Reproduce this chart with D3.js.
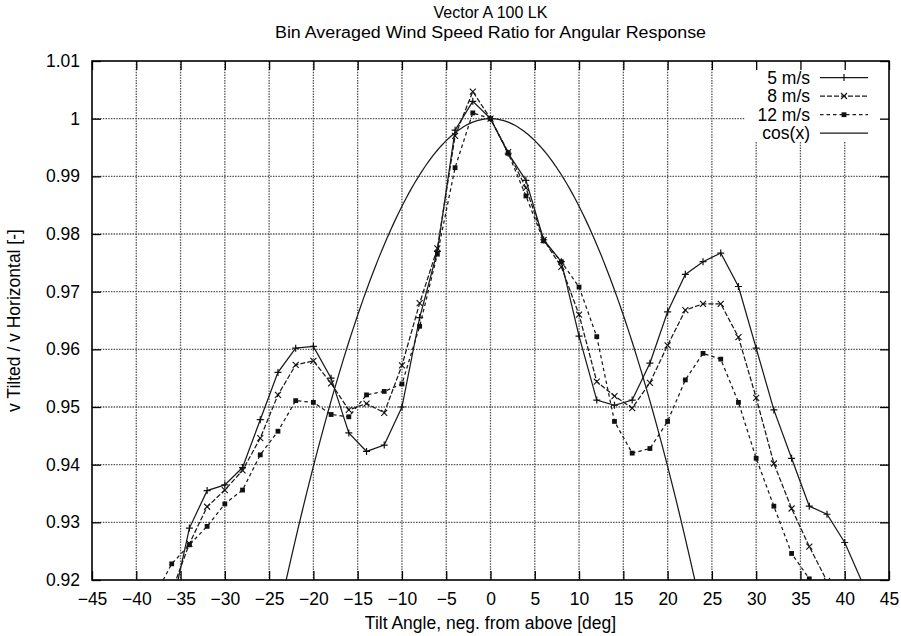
<!DOCTYPE html>
<html>
<head>
<meta charset="utf-8">
<script src="https://cdn.jsdelivr.net/npm/d3@7"></script>
<style>
  html, body { margin: 0; padding: 0; background: #fff; }
  svg { display: block; }
  text { font-family: "Liberation Sans", Arial, sans-serif; fill: #000; }
</style>
</head>
<body>
<script>
// ---------- data ----------
const titleLines = ["Vector A 100 LK", "Bin Averaged Wind Speed Ratio for Angular Response"];
const xLabel = "Tilt Angle, neg. from above [deg]";
const yLabel = "v Tilted / v Horizontal [-]";
const xTicks = [-45, -40, -35, -30, -25, -20, -15, -10, -5, 0, 5, 10, 15, 20, 25, 30, 35, 40, 45];
const yTicks = [0.92, 0.93, 0.94, 0.95, 0.96, 0.97, 0.98, 0.99, 1.00, 1.01];
const yTickLabels = ["0.92", "0.93", "0.94", "0.95", "0.96", "0.97", "0.98", "0.99", "1", "1.01"];

const angles5 = [-36, -34, -32, -30, -28, -26, -24, -22, -20, -18, -16, -14, -12, -10, -8, -6, -4, -2, 0, 2, 4, 6, 8, 10, 12, 14, 16, 18, 20, 22, 24, 26, 28, 30, 32, 34, 36, 38, 40, 42];
const ratio5 = [0.915, 0.929, 0.9355, 0.9365, 0.9395, 0.9478, 0.956, 0.9602, 0.9605, 0.955, 0.9455, 0.9423, 0.9434, 0.9500, 0.9655, 0.977, 0.998, 1.003, 1.000, 0.994, 0.9893, 0.979, 0.9752, 0.9623, 0.9512, 0.9503, 0.9512, 0.9576, 0.9665, 0.973, 0.9752, 0.9767, 0.9709, 0.9602, 0.9495, 0.9411, 0.9328, 0.9314, 0.9265, 0.9195];

const angles8 = [-36, -34, -32, -30, -28, -26, -24, -22, -20, -18, -16, -14, -12, -10, -8, -6, -4, -2, 0, 2, 4, 6, 8, 10, 12, 14, 16, 18, 20, 22, 24, 26, 28, 30, 32, 34, 36, 38];
const ratio8 = [0.918, 0.9263, 0.9327, 0.9356, 0.939, 0.9446, 0.9521, 0.9573, 0.958, 0.9541, 0.9495, 0.9506, 0.949, 0.9572, 0.968, 0.9775, 0.997, 1.0047, 1.000, 0.9942, 0.988, 0.979, 0.9743, 0.966, 0.9544, 0.9519, 0.9498, 0.9542, 0.9607, 0.9668, 0.9679, 0.9679, 0.9621, 0.9516, 0.9402, 0.9324, 0.9258, 0.9198];

const angles12 = [-38, -36, -34, -32, -30, -28, -26, -24, -22, -20, -18, -16, -14, -12, -10, -8, -6, -4, -2, 0, 2, 4, 6, 8, 10, 12, 14, 16, 18, 20, 22, 24, 26, 28, 30, 32, 34, 36];
const ratio12 = [0.917, 0.9228, 0.9261, 0.9293, 0.9332, 0.9356, 0.9417, 0.9458, 0.9511, 0.9508, 0.9487, 0.9483, 0.9521, 0.9527, 0.954, 0.964, 0.9765, 0.9915, 1.001, 1.000, 0.994, 0.9866, 0.9788, 0.9752, 0.9708, 0.9622, 0.9475, 0.942, 0.9428, 0.9475, 0.9547, 0.9593, 0.9583, 0.9508, 0.9411, 0.9328, 0.9246, 0.9202];

const seriesNames = ["5 m/s", "8 m/s", "12 m/s", "cos(x)"];

// ---------- layout ----------
const W = 901, H = 636;
const pL = 92, pR = 889, pT = 61, pB = 580;
const FS = 17.5;
const TFS = 16;

const svg = d3.select("body").append("svg").attr("width", W).attr("height", H);

const x = d3.scaleLinear().domain([-45, 45]).range([pL, pR]);
const y = d3.scaleLinear().domain([0.92, 1.01]).range([pB, pT]);

svg.append("defs").append("clipPath").attr("id", "plotclip")
  .append("rect").attr("x", pL).attr("y", pT).attr("width", pR - pL).attr("height", pB - pT);

// grid
const grid = svg.append("g");
grid.selectAll(".vg").data(xTicks.slice(1, -1)).join("line")
  .attr("x1", d => x(d)).attr("x2", d => x(d)).attr("y1", pT).attr("y2", pB)
  .attr("stroke", "#555").attr("stroke-width", 1.3).attr("stroke-dasharray", "1.5,1.2");
grid.selectAll(".hg").data(yTicks.slice(1, -1)).join("line")
  .attr("y1", d => y(d)).attr("y2", d => y(d)).attr("x1", pL).attr("x2", pR)
  .attr("stroke", "#555").attr("stroke-width", 1.3).attr("stroke-dasharray", "1.5,1.2");

// legend background (opaque key)
svg.append("rect").attr("x", 745).attr("y", pT + 1).attr("width", pR - 746).attr("height", 79).attr("fill", "#fff");

// axes with D3 axis generators (ticks inward)
const tickLen = 9;
svg.append("g").attr("transform", `translate(0,${pB})`)
  .call(d3.axisBottom(x).tickValues(xTicks).tickSize(-tickLen).tickPadding(13).tickFormat(d3.format("d")))
  .call(g => g.select(".domain").remove())
  .call(g => g.selectAll("line").attr("stroke", "#000").attr("stroke-width", 1.3))
  .call(g => g.selectAll("text").attr("font-size", FS).attr("font-family", "Liberation Sans, Arial, sans-serif").attr("fill", "#000"));
svg.append("g").attr("transform", `translate(0,${pT})`)
  .call(d3.axisTop(x).tickValues(xTicks).tickSize(-tickLen).tickFormat(""))
  .call(g => g.select(".domain").remove())
  .call(g => g.selectAll("line").attr("stroke", "#000").attr("stroke-width", 1.3));
svg.append("g").attr("transform", `translate(${pL},0)`)
  .call(d3.axisLeft(y).tickValues(yTicks).tickSize(-tickLen).tickPadding(12).tickFormat((d, i) => yTickLabels[i]))
  .call(g => g.select(".domain").remove())
  .call(g => g.selectAll("line").attr("stroke", "#000").attr("stroke-width", 1.3))
  .call(g => g.selectAll("text").attr("font-size", FS).attr("font-family", "Liberation Sans, Arial, sans-serif").attr("fill", "#000"));
svg.append("g").attr("transform", `translate(${pR},0)`)
  .call(d3.axisRight(y).tickValues(yTicks).tickSize(-tickLen).tickFormat(""))
  .call(g => g.select(".domain").remove())
  .call(g => g.selectAll("line").attr("stroke", "#000").attr("stroke-width", 1.3));

// frame
svg.append("rect").attr("x", pL).attr("y", pT).attr("width", pR - pL).attr("height", pB - pT)
  .attr("fill", "none").attr("stroke", "#000").attr("stroke-width", 1.6);

// ---------- series ----------
const line = d3.line().x(d => x(d[0])).y(d => y(d[1]));
const plot = svg.append("g").attr("clip-path", "url(#plotclip)");

const s5 = angles5.map((a, i) => [a, ratio5[i]]);
const s8 = angles8.map((a, i) => [a, ratio8[i]]);
const s12 = angles12.map((a, i) => [a, ratio12[i]]);
const cosX = d3.range(-30, 30.01, 0.25).map(a => [a, Math.cos(a * Math.PI / 180)]);

const styles = [
  { data: s5, dash: null, marker: "plus" },
  { data: s8, dash: "5,2", marker: "cross" },
  { data: s12, dash: "3.5,3", marker: "dot" },
  { data: cosX, dash: null, marker: null }
];

function drawMarker(g, kind, cx, cy) {
  if (kind === "plus") {
    g.append("path").attr("d", `M${cx - 3.5},${cy}H${cx + 3.5}M${cx},${cy - 3.5}V${cy + 3.5}`)
      .attr("stroke", "#111").attr("stroke-width", 1.2).attr("fill", "none");
  } else if (kind === "cross") {
    g.append("path").attr("d", `M${cx - 3},${cy - 3}L${cx + 3},${cy + 3}M${cx - 3},${cy + 3}L${cx + 3},${cy - 3}`)
      .attr("stroke", "#111").attr("stroke-width", 1.1).attr("fill", "none");
  } else if (kind === "dot") {
    g.append("rect").attr("x", cx - 2.4).attr("y", cy - 2.4).attr("width", 4.8).attr("height", 4.8).attr("fill", "#111");
  }
}

styles.forEach(s => {
  plot.append("path").datum(s.data).attr("d", line)
    .attr("fill", "none").attr("stroke", "#1a1a1a").attr("stroke-width", 1.25)
    .attr("stroke-dasharray", s.dash);
  if (s.marker) {
    const mg = plot.append("g");
    s.data.forEach(d => drawMarker(mg, s.marker, x(d[0]), y(d[1])));
  }
});

// ---------- legend ----------
const legRows = [77.5, 96, 114.7, 133];
seriesNames.forEach((name, i) => {
  const ly = legRows[i];
  svg.append("text").attr("x", 810).attr("y", ly).attr("dy", "0.35em").attr("text-anchor", "end")
    .attr("font-size", FS).text(name);
  svg.append("line").attr("x1", 820).attr("x2", 868).attr("y1", ly).attr("y2", ly)
    .attr("stroke", "#1a1a1a").attr("stroke-width", 1.25).attr("stroke-dasharray", styles[i].dash);
  if (styles[i].marker) drawMarker(svg.append("g"), styles[i].marker, 844, ly);
});

// ---------- titles ----------
svg.append("text").attr("x", 490.5).attr("y", 18).attr("text-anchor", "middle").attr("font-size", TFS).text(titleLines[0]);
svg.append("text").attr("x", 490.5).attr("y", 38).attr("text-anchor", "middle").attr("font-size", TFS)
  .attr("textLength", 431).attr("lengthAdjust", "spacingAndGlyphs").text(titleLines[1]);
svg.append("text").attr("x", 490.5).attr("y", 629).attr("text-anchor", "middle").attr("font-size", FS).text(xLabel);
svg.append("text").attr("transform", `translate(20,${(pT + pB) / 2}) rotate(-90)`)
  .attr("text-anchor", "middle").attr("font-size", FS).text(yLabel);
</script>
</body>
</html>
